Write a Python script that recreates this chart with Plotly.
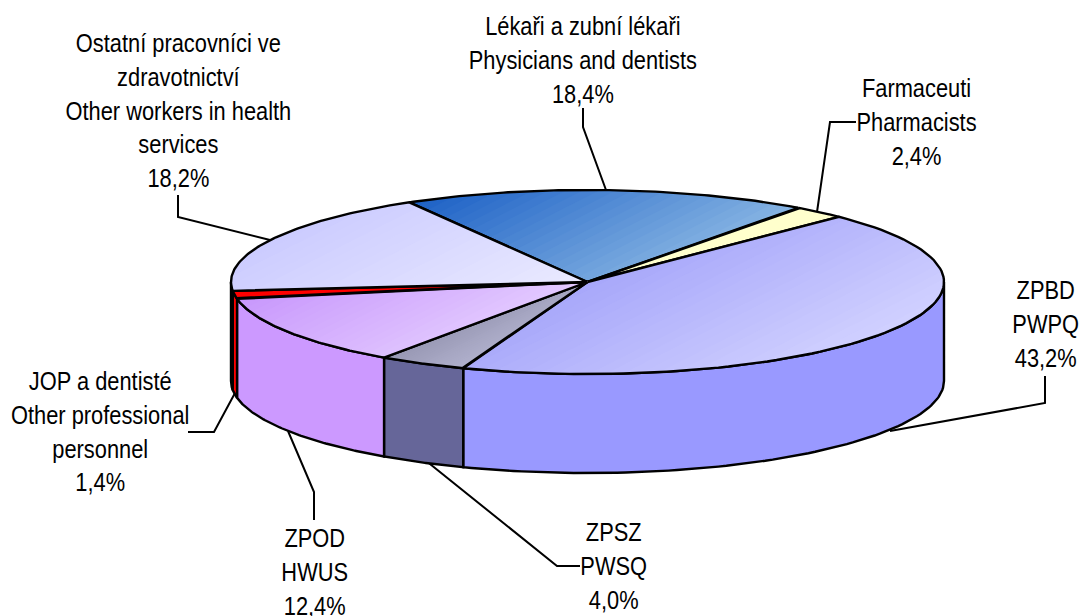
import numpy as np
import plotly.graph_objects as go

# ---- data ----
labels = [
    "Lékaři a zubní lékaři<br>Physicians and dentists",
    "Farmaceuti<br>Pharmacists",
    "ZPBD<br>PWPQ",
    "ZPSZ<br>PWSQ",
    "ZPOD<br>HWUS",
    "JOP a dentisté<br>Other professional<br>personnel",
    "Ostatní pracovníci ve<br>zdravotnictví<br>Other workers in health<br>services",
]
values = [18.4, 2.4, 43.2, 4.0, 12.4, 1.4, 18.2]

# ---- styles ----
wall_colors = ["#3366CC", "#FFFFCC", "#9999FF", "#666699", "#CC99FF", "#FF0000", "#CCCCFF"]
grad_start = ["#1E62C6", "#FFFFCC", "#A8A8FA", "#9898B4", "#C898FC", "#FF0000", "#CCCCFF"]
grad_end = ["#84B2E2", "#FFFFCC", "#D0D0FF", "#B0B0CC", "#E2C8FF", "#FF0000", "#EAEAFF"]
FONT = "Liberation Sans, Arial, sans-serif"
FONT_SIZE = 26
TEXT_SQUEEZE = 0.84

# ---- layout geometry of the tilted pie (pixels on the plot axes) ----
CX, CY, RX, RY, DEPTH = 587.5, 282.0, 356.5, 92.0, 99.0
FIRST_ANGLE = -30.0
LINE_W = 2.4
BANDS = 24
GRAD_DIR = np.array([0.45, 0.89])

# label centre and leader path for each slice
label_pos = [(583, 60), (916, 122), (1045, 324), (613, 566), (314, 572), (100, 431), (178, 110)]
leaders = [
    [(606, 190), (583, 127), (583, 108)],
    [(817, 212), (830, 122), (856, 122)],
    [(890, 431), (1045, 403), (1045, 376)],
    [(425, 460), (557, 566), (580, 566)],
    [(288, 431), (314, 492), (314, 520)],
    [(235, 393), (214, 432), (188, 432)],
    [(270, 240), (178, 217), (178, 195)],
]


def rim(angles, dy=0.0):
    a = np.radians(angles)
    return CX + RX * np.sin(a), CY - RY * np.cos(a) + dy


def hex_rgb(h):
    return np.array([int(h[i:i + 2], 16) for i in (1, 3, 5)], float)


def clip(poly, t):
    """Keep the part of a convex polygon with projection on GRAD_DIR >= t."""
    d = poly @ GRAD_DIR - t
    out = []
    n = len(poly)
    for i in range(n):
        j = (i + 1) % n
        if d[i] >= 0:
            out.append(poly[i])
        if d[i] * d[j] < 0:
            out.append(poly[i] + (poly[j] - poly[i]) * d[i] / (d[i] - d[j]))
    return np.array(out)


fig = go.Figure()


def add(x, y, fill=None, line=None):
    fig.add_trace(go.Scatter(
        x=list(x), y=list(y), mode="lines",
        fill="toself" if fill else "none",
        fillcolor=fill,
        line=dict(color=line or "rgba(0,0,0,0)", width=LINE_W if line else 0),
        hoverinfo="skip", showlegend=False,
    ))


# leaders sit behind the pie
for path in leaders:
    px, py = zip(*path)
    fig.add_trace(go.Scatter(x=px, y=py, mode="lines", line=dict(color="black", width=2.0),
                             hoverinfo="skip", showlegend=False))

edges = FIRST_ANGLE + np.concatenate([[0], np.cumsum(values)]) * 3.6
spans = list(zip(edges[:-1], edges[1:]))

# outer walls: only the near half of the rim (90..270 degrees) is visible
for (a0, a1), col in zip(spans, wall_colors):
    lo, hi = max(a0, 90.0), min(a1, 270.0)
    if hi <= lo:
        continue
    ang = np.linspace(lo, hi, 80)
    xt, yt = rim(ang)
    xb, yb = rim(ang[::-1], DEPTH)
    add(np.r_[xt, xb, xt[0]], np.r_[yt, yb, yt[0]], fill=col, line="black")

# top faces with a diagonal gradient built from overlapping bands
for (a0, a1), c0, c1 in zip(spans, grad_start, grad_end):
    ang = np.linspace(a0, a1, 90)
    xr, yr = rim(ang)
    poly = np.column_stack([np.r_[CX, xr], np.r_[CY, yr]])
    proj = poly @ GRAD_DIR
    p0, p1 = proj.min(), proj.max()
    rgb0, rgb1 = hex_rgb(c0), hex_rgb(c1)
    n = 1 if c0 == c1 else BANDS
    for k in range(n):
        t = k / max(n - 1, 1)
        c = (1 - t) * rgb0 + t * rgb1
        part = clip(poly, p0 + (p1 - p0) * k / n) if k else poly
        if len(part) < 3:
            continue
        add(np.r_[part[:, 0], part[0, 0]], np.r_[part[:, 1], part[0, 1]],
            fill=f"rgb({c[0]:.0f},{c[1]:.0f},{c[2]:.0f})")
    add(np.r_[poly[:, 0], poly[0, 0]], np.r_[poly[:, 1], poly[0, 1]], line="black")

annotations = [
    dict(x=x, y=y, xref="x", yref="y", text=f"{lab}<br>{val:.1f}%".replace(".", ","),
         showarrow=False, xanchor="center", yanchor="middle", align="center",
         font=dict(family=FONT, size=FONT_SIZE, color="black"))
    for lab, val, (x, y) in zip(labels, values, label_pos)
]

fig.update_layout(
    width=1080, height=616, autosize=False,
    margin=dict(l=0, r=0, t=0, b=0),
    paper_bgcolor="white", plot_bgcolor="white",
    xaxis=dict(range=[0, 1080], visible=False, fixedrange=True),
    yaxis=dict(range=[616, 0], visible=False, fixedrange=True),
    annotations=annotations,
)

# page margin off; labels narrowed like the reference's horizontally condensed text
post = """
document.documentElement.style.overflow = 'hidden';
document.body.style.margin = '0';
document.querySelectorAll('.annotation-text').forEach(function (t) {
  var b = t.getBBox(), c = b.x + b.width / 2;
  t.setAttribute('transform', 'translate(' + c + ',0) scale(%s,1) translate(' + (-c) + ',0)');
});
""" % TEXT_SQUEEZE
fig.write_html("out.html", config={"displayModeBar": False}, post_script=post)
